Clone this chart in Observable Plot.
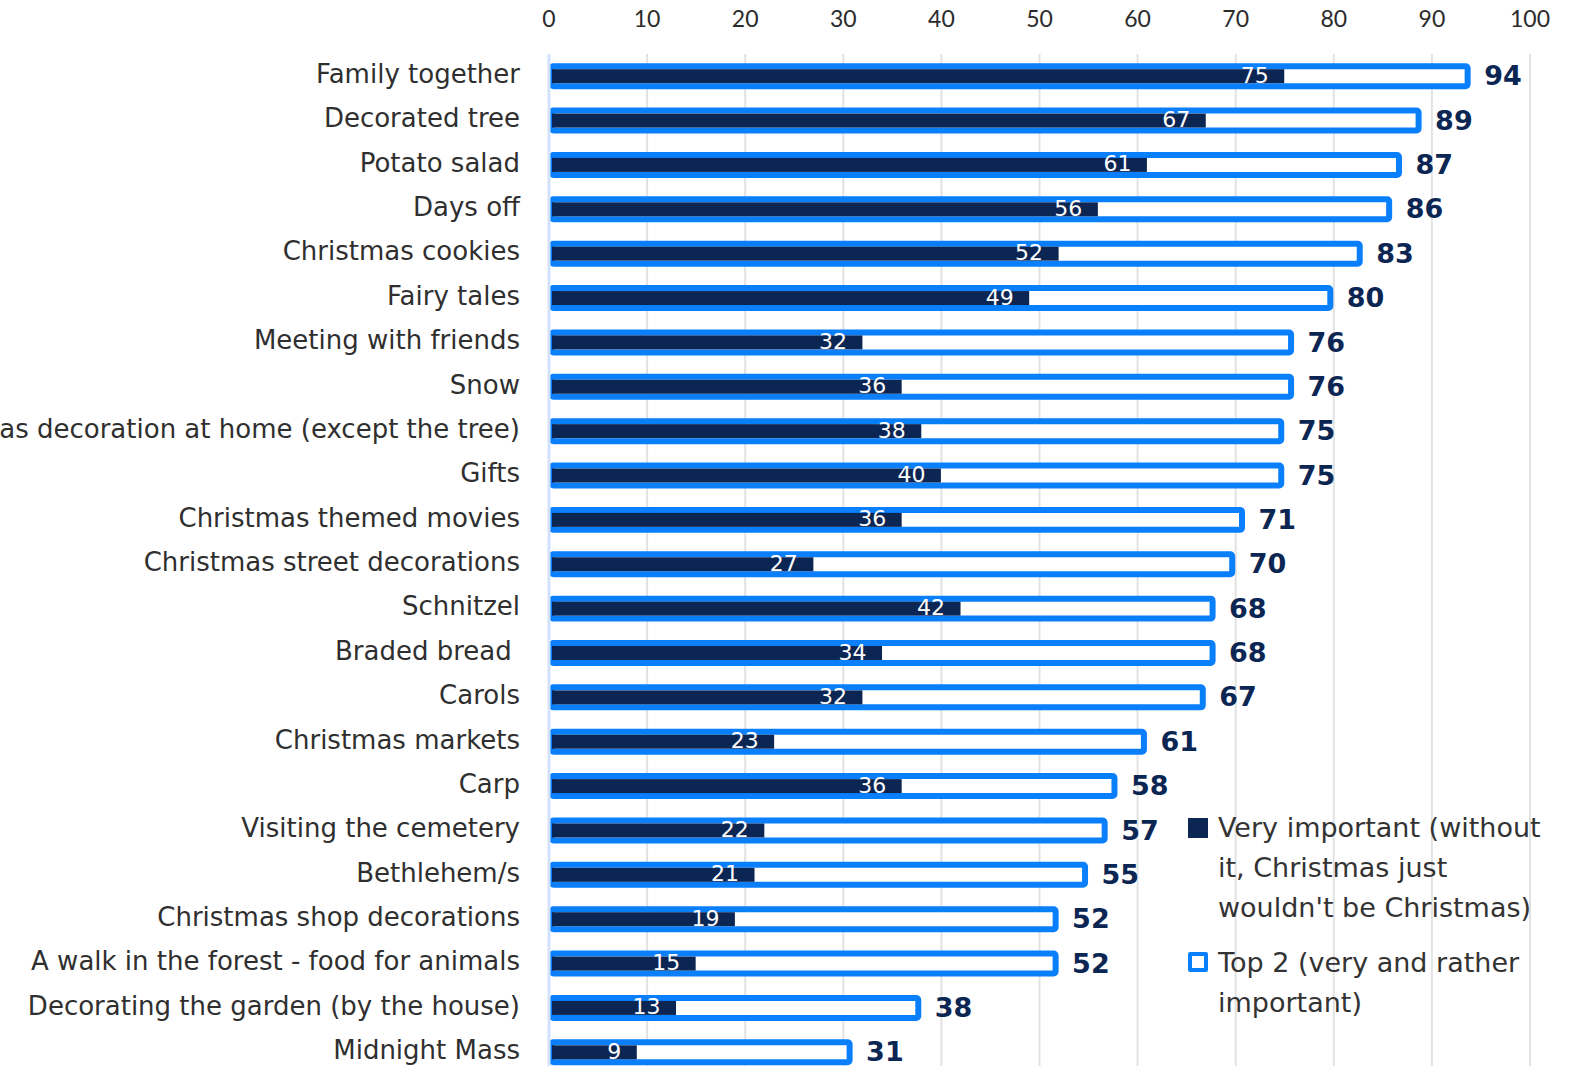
<!DOCTYPE html>
<html>
<head>
<meta charset="utf-8">
<script src="https://cdn.jsdelivr.net/npm/d3@7"></script>
<script src="https://cdn.jsdelivr.net/npm/@observablehq/plot@0.6"></script>
<style>
  html, body { margin: 0; padding: 0; background: #fff; overflow: hidden; }
  #wrap { position: relative; width: 1575px; height: 1066px; overflow: hidden; }
  #legend { position: absolute; font-family: "DejaVu Sans", sans-serif; font-size: 27px; color: #333; line-height: 40px; }
  .item { position: relative; padding-left: 32px; }
  .sw { position: absolute; left: 2px; width: 20px; height: 20px; box-sizing: border-box; }
</style>
</head>
<body>
<div id="wrap">
  <div id="chart"></div>
  <div id="legend"></div>
</div>
<script>
const categories = [
  "Family together", "Decorated tree", "Potato salad", "Days off", "Christmas cookies",
  "Fairy tales", "Meeting with friends", "Snow", "Christmas decoration at home (except the tree)",
  "Gifts", "Christmas themed movies", "Christmas street decorations", "Schnitzel",
  "Braded bread\u00a0", "Carols", "Christmas markets", "Carp", "Visiting the cemetery",
  "Bethlehem/s", "Christmas shop decorations", "A walk in the forest - food for animals",
  "Decorating the garden (by the house)", "Midnight Mass"
];
const top2 = [94, 89, 87, 86, 83, 80, 76, 76, 75, 75, 71, 70, 68, 68, 67, 61, 58, 57, 55, 52, 52, 38, 31];
const veryImportant = [75, 67, 61, 56, 52, 49, 32, 36, 38, 40, 36, 27, 42, 34, 32, 23, 36, 22, 21, 19, 15, 13, 9];
const xTicks = [0, 10, 20, 30, 40, 50, 60, 70, 80, 90, 100];
const seriesNames = ["Very important (without it, Christmas just wouldn't be Christmas)", "Top 2 (very and rather important)"];
const legendLines = [["Very important (without", "it, Christmas just", "wouldn't be Christmas)"], ["Top 2 (very and rather", "important)"]];

const data = categories.map((c, i) => ({cat: c, top2: top2[i], vi: veryImportant[i]}));

const NAVY = "#0c2654";
const BLUE = "#0a7ffc";
const FONT = "DejaVu Sans, sans-serif";

const chart = Plot.plot({
  width: 1575,
  height: 1076,
  marginLeft: 548.5,
  marginRight: 45.5,
  marginTop: 54,
  marginBottom: 1.5,
  style: {fontFamily: FONT, background: "white", overflow: "visible"},
  x: {domain: [0, 100], ticks: xTicks},
  y: {domain: categories, padding: 0, round: false},
  marks: [
    Plot.gridX(xTicks, {stroke: "#e2e2e2", strokeOpacity: 1, strokeWidth: 2}),
    Plot.barX(data, {x: "top2", y: "cat", fill: "white", stroke: BLUE, strokeWidth: 6, insetTop: 12.2, insetBottom: 12.2, insetRight: 3, insetLeft: 3, rx: 2}),
    Plot.barX(data, {x: "vi", y: "cat", fill: NAVY, insetTop: 15.2, insetBottom: 15.2, insetLeft: 3.5}),
    Plot.ruleX([0], {stroke: "#d3e2fb", strokeWidth: 3}),
    Plot.text(data, {x: "vi", y: "cat", text: d => String(d.vi), textAnchor: "end", dx: -16, dy: -1, fill: "white", fontSize: 22, fontFamily: FONT}),
    Plot.text(data, {x: "top2", y: "cat", text: d => String(d.top2), textAnchor: "start", dx: 13, dy: 0, fill: NAVY, fontSize: 27, fontWeight: "bold", fontFamily: FONT}),
    Plot.axisX({anchor: "top", ticks: xTicks, tickSize: 0, tickPadding: 28, label: null, fontSize: 23, fill: "#2b2b2b", fontFamily: "Lato, sans-serif"}),
    Plot.axisY({anchor: "left", tickSize: 0, tickPadding: 29, label: null, fontSize: 26, dy: -2, fill: "#2f2f2f", fontFamily: FONT})
  ]
});
document.getElementById("chart").appendChild(chart);

// Legend
const legend = d3.select("#legend").style("left", "1186px").style("top", "808px");
const styles = [
  {fill: NAVY, border: "none", top: "10px"},
  {fill: "white", border: "4px solid " + BLUE, top: "9px"}
];
legendLines.forEach((lines, i) => {
  const it = legend.append("div").attr("class", "item").attr("title", seriesNames[i])
    .style("margin-top", i === 0 ? "0px" : "15px");
  it.append("div").attr("class", "sw")
    .style("top", styles[i].top)
    .style("background", styles[i].fill)
    .style("border", styles[i].border)
    .style("border-radius", i === 1 ? "2px" : "0px");
  lines.forEach(l => it.append("div").text(l).style("white-space", "nowrap"));
});
</script>
</body>
</html>
